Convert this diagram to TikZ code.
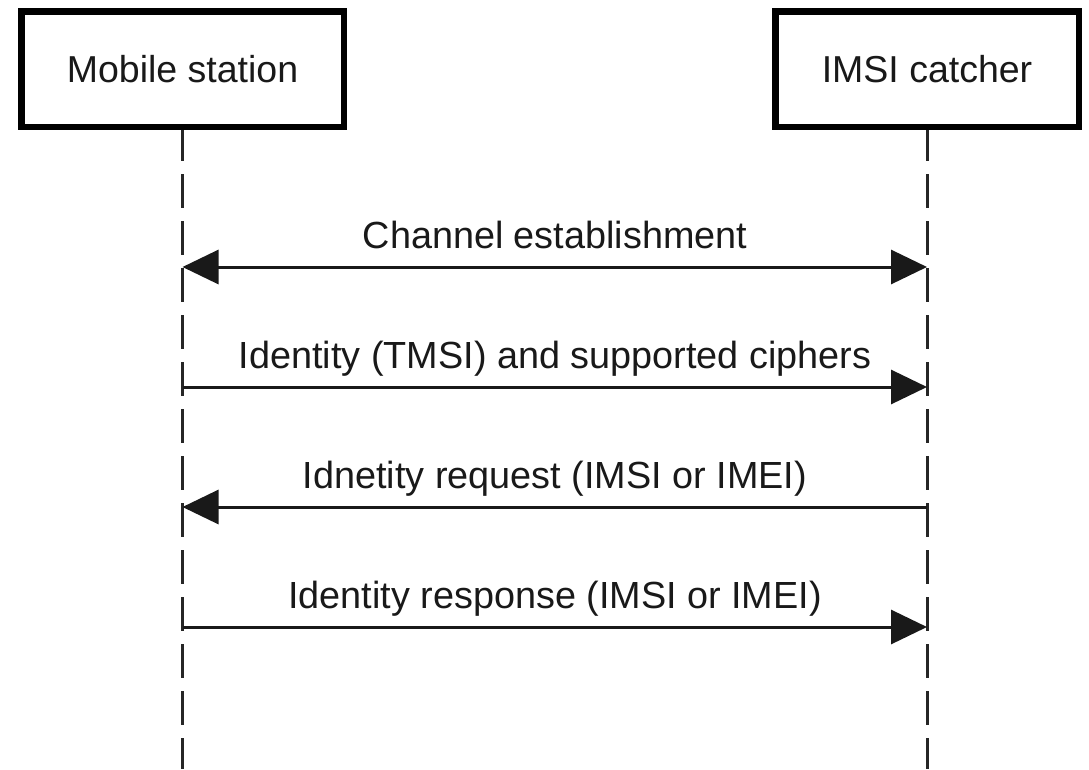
\documentclass[tikz,border=0pt]{standalone}
\usepackage{fontspec}
\setmainfont{Liberation Sans}
\usetikzlibrary{arrows.meta}
\begin{document}
\begin{tikzpicture}[x=1pt,y=-1pt,
  actor/.style={draw=black,fill=white,line width=6.5pt,inner sep=0pt,
    font=\fontsize{37.5}{44}\selectfont,text=black!90},
  lifeline/.style={line width=3pt,draw=black!85,dash pattern=on 34pt off 13pt},
  msg/.style={line width=3pt,draw=black!90,-{Triangle[length=36pt,width=34pt]}},
  msgboth/.style={line width=3pt,draw=black!90,{Triangle[length=36pt,width=34pt]}-{Triangle[length=36pt,width=34pt]}},
  lbl/.style={anchor=base,inner sep=0pt,font=\fontsize{37.8}{44}\selectfont,text=black!90}]
\useasboundingbox (0,0) rectangle (1089,769);
\fill[white] (0,0) rectangle (1089,769);
% lifelines
\coordinate (msEnd) at (182.5,769);
\coordinate (icEnd) at (927,769);
\draw[lifeline] (182.5,127) -- (msEnd);
\draw[lifeline] (927,127) -- (icEnd);
% actors
\node[actor,minimum width=322.5pt,minimum height=115.5pt] (ms) at (182.5,69) {Mobile station};
\node[actor,minimum width=303.5pt,minimum height=115.5pt] (ic) at (927,69) {IMSI catcher};
% message endpoints
\coordinate (a1) at (182.5,267); \coordinate (b1) at (927,267);
\coordinate (a2) at (182.5,387); \coordinate (b2) at (927,387);
\coordinate (a3) at (182.5,507); \coordinate (b3) at (927,507);
\coordinate (a4) at (182.5,627); \coordinate (b4) at (927,627);
% messages
\draw[msgboth] (a1) -- (b1);
\node[lbl] (l1) at (555,248) {Channel establishment};
\draw[msg] (a2) -- (b2);
\node[lbl] (l2) at (555,368) {Identity (TMSI) and supported ciphers};
\draw[msg] (b3) -- (a3);
\node[lbl] (l3) at (555,488) {Idnetity request (IMSI or IMEI)};
\draw[msg] (a4) -- (b4);
\node[lbl] (l4) at (555,608) {Identity response (IMSI or IMEI)};
\end{tikzpicture}
\end{document}
